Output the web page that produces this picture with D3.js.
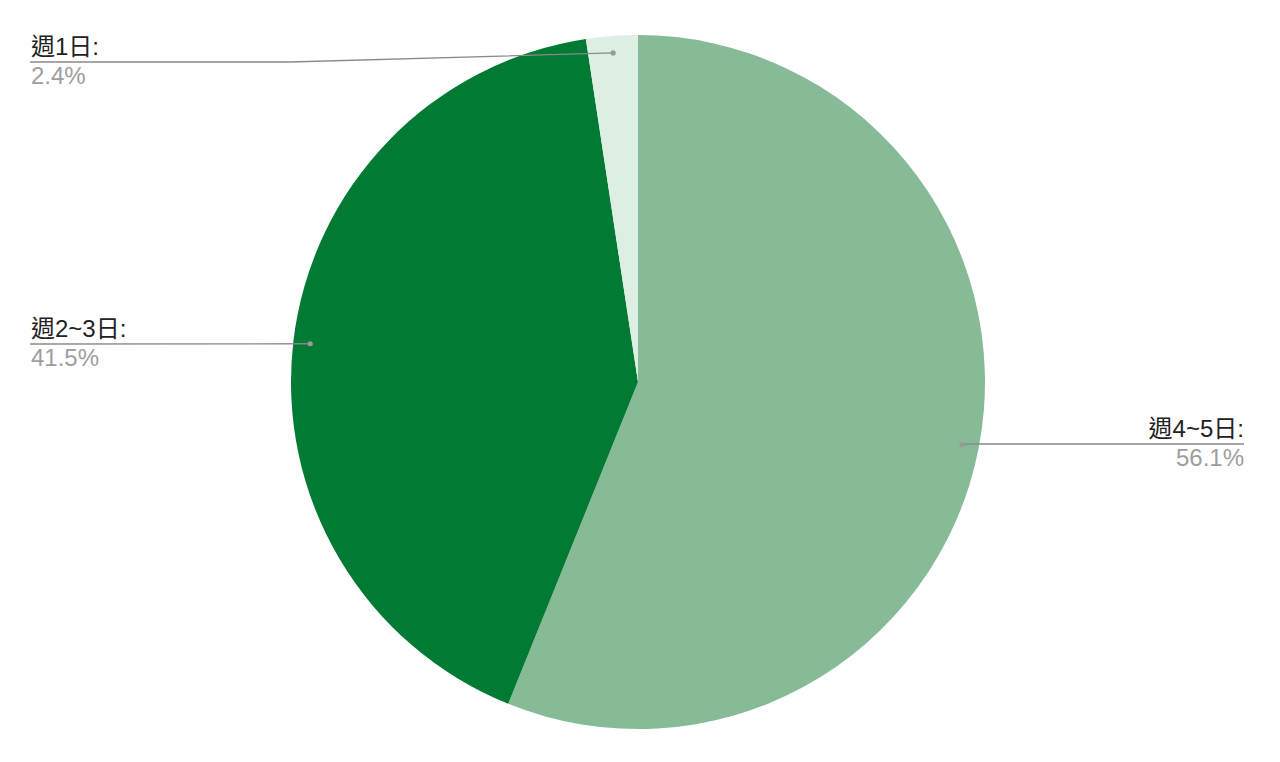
<!DOCTYPE html>
<html><head><meta charset="utf-8">
<script src="https://cdn.jsdelivr.net/npm/d3@7"></script>
<style>
html,body{margin:0;padding:0;background:#fff;}
text{font-family:"Liberation Sans",Arial,"Noto Sans CJK TC",sans-serif;}
</style></head>
<body>
<svg id="chart" width="1280" height="762"></svg>
<script>
const categories = ["週4~5日", "週2~3日", "週1日"];
const values = [56.1, 41.5, 2.4];
const valueLabels = ["56.1%", "41.5%", "2.4%"];
const colors = ["#87bb98", "#017a33", "#ddefe3"];

const W = 1280, H = 762;
const cx = 638, cy = 382, R = 347;
const svg = d3.select("#chart");
const g = svg.append("g").attr("transform", `translate(${cx},${cy})`);

const data = categories.map((c, i) => ({ name: c, value: values[i], label: valueLabels[i], color: colors[i] }));
const pie = d3.pie().value(d => d.value).sort(null);
const arcs = pie(data);
const arc = d3.arc().innerRadius(0).outerRadius(R);
const dotArc = d3.arc().innerRadius(330).outerRadius(330);

g.selectAll("path.slice").data(arcs).enter().append("path")
  .attr("class", "slice")
  .attr("d", arc)
  .attr("fill", d => d.data.color);

// label layout (positions only)
const layout = {
  "週4~5日": { side: "right", lineY: 444, x: 1244, bend: null },
  "週2~3日": { side: "left", lineY: 344, x: 30, bend: null },
  "週1日": { side: "left", lineY: 62, x: 30, bend: 290 }
};

arcs.forEach(a => {
  const L = layout[a.data.name];
  const [dx, dy] = dotArc.centroid(a);
  const px = cx + dx, py = cy + dy;
  let pts;
  if (L.side === "right") {
    pts = [[px, py], [L.x, L.lineY]];
    pts = [[px, py], [px + 5, L.lineY], [L.x, L.lineY]];
  } else if (L.bend != null) {
    pts = [[px, py], [L.bend, L.lineY], [L.x, L.lineY]];
  } else {
    pts = [[px, py], [L.x, L.lineY]];
  }
  svg.append("path")
    .attr("d", d3.line()(pts))
    .attr("fill", "none")
    .attr("stroke", "#8a8a8a")
    .attr("stroke-width", 1.3);
  svg.append("circle").attr("cx", px).attr("cy", py).attr("r", 2.6).attr("fill", "#999");

  const anchor = L.side === "right" ? "end" : "start";
  const tx = L.side === "right" ? L.x : L.x + 1;
  svg.append("text")
    .attr("x", tx).attr("y", L.lineY - 7)
    .attr("text-anchor", anchor)
    .attr("font-size", 24)
    .attr("fill", "#222")
    .text(a.data.name + ":");
  svg.append("text")
    .attr("x", tx).attr("y", L.lineY + 22)
    .attr("text-anchor", anchor)
    .attr("font-size", 24)
    .attr("fill", "#9e9e9e")
    .text(a.data.label);
});
</script>
</body></html>
